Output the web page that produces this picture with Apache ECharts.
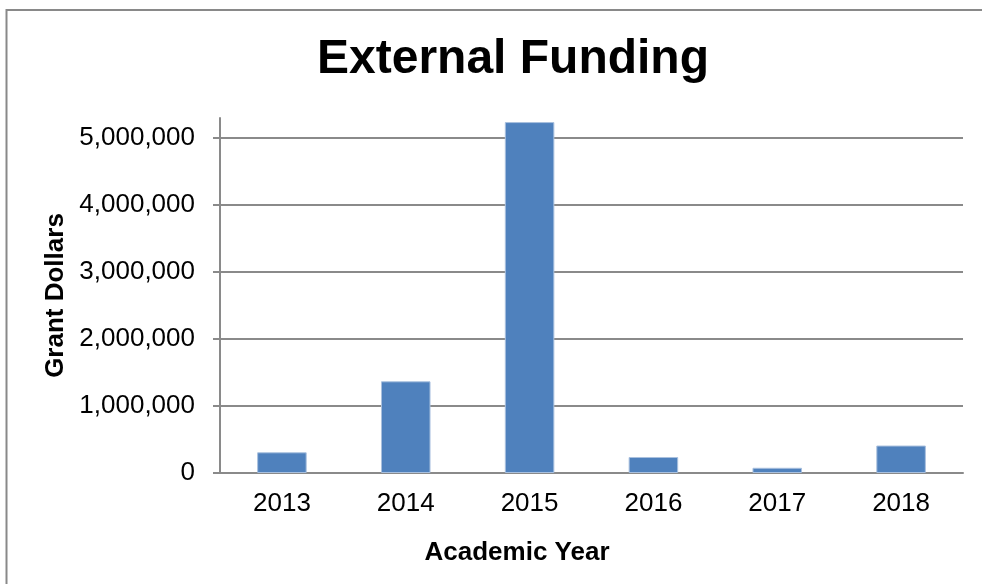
<!DOCTYPE html>
<html>
<head>
<meta charset="utf-8">
<script src="https://cdn.jsdelivr.net/npm/echarts@6/dist/echarts.min.js"></script>
<style>
html,body{margin:0;padding:0;background:#fff;}
#chart{width:982px;height:584px;}
</style>
</head>
<body>
<div id="chart"></div>
<script>
var titleText = 'External Funding';
var xAxisTitle = 'Academic Year';
var yAxisTitle = 'Grant Dollars';
var categories = ['2013', '2014', '2015', '2016', '2017', '2018'];
var grantDollars = [309000, 1369000, 5239000, 239000, 78000, 410000];
var yTicks = [0, 1000000, 2000000, 3000000, 4000000, 5000000];
var yMax = 5300000;

var FONT = '"Liberation Sans", Arial, sans-serif';
var GRID_COLOR = '#8a8a8a';

var chart = echarts.init(document.getElementById('chart'));
chart.setOption({
  animation: false,
  backgroundColor: '#ffffff',
  title: {
    text: titleText,
    left: 508,
    top: 31,
    textAlign: 'center',
    textStyle: { fontFamily: FONT, fontSize: 48, fontWeight: 'bold', color: '#000' }
  },
  graphic: [{
    type: 'rect',
    silent: true,
    shape: { x: 6.5, y: 10, width: 1100, height: 700 },
    style: { fill: 'none', stroke: '#898989', lineWidth: 2 }
  }],
  grid: { left: 220, right: 19, top: 118, bottom: 111 },
  xAxis: {
    type: 'category',
    data: categories,
    name: xAxisTitle,
    nameLocation: 'middle',
    nameGap: 67,
    nameTextStyle: { fontFamily: FONT, fontSize: 26, fontWeight: 'bold', color: '#000', padding: [0, 149, 0, 0] },
    axisLine: { lineStyle: { color: GRID_COLOR, width: 2 } },
    axisTick: { show: false },
    axisLabel: { margin: 18, fontFamily: FONT, fontSize: 26, color: '#000' },
    splitLine: { show: false }
  },
  yAxis: {
    type: 'value',
    min: 0,
    max: yMax,
    name: yAxisTitle,
    nameLocation: 'middle',
    nameGap: 150,
    nameTextStyle: { fontFamily: FONT, fontSize: 26, fontWeight: 'bold', color: '#000' },
    axisLine: { show: true, lineStyle: { color: GRID_COLOR, width: 2 } },
    axisTick: { show: true, length: 7, customValues: yTicks, lineStyle: { color: GRID_COLOR, width: 2 } },
    axisLabel: {
      customValues: yTicks,
      margin: 25,
      fontFamily: FONT, fontSize: 26, color: '#000',
      formatter: function (v) { return Number(v).toLocaleString('en-US'); }
    },
    splitLine: { show: true, lineStyle: { color: GRID_COLOR, width: 2 } }
  },
  series: [{
    type: 'bar',
    data: grantDollars,
    barWidth: '40%',
    itemStyle: { color: '#4F81BD', borderColor: '#a9c0de', borderWidth: 1 }
  }]
});
</script>
</body>
</html>
